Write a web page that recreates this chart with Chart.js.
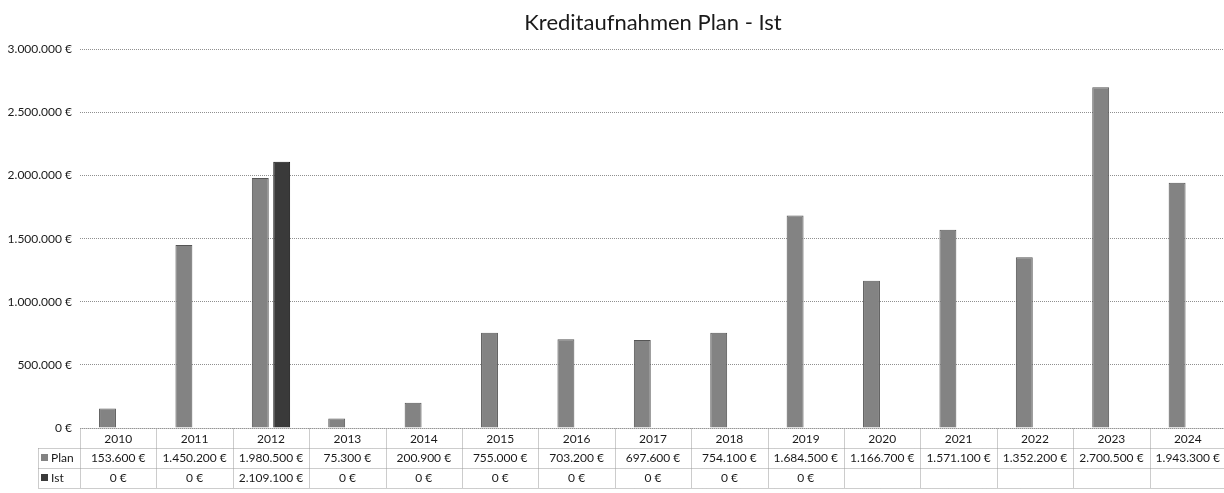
<!DOCTYPE html>
<html>
<head>
<meta charset="utf-8">
<script src="https://cdn.jsdelivr.net/npm/chart.js@4.4.1/dist/chart.umd.min.js"></script>
<style>
  html, body { margin: 0; padding: 0; background: #fff; overflow: hidden; }
  canvas { display: block; }
</style>
</head>
<body>
<canvas id="kredit-chart" width="1230" height="493"></canvas>
<script>
const years = ['2010', '2011', '2012', '2013', '2014', '2015', '2016', '2017', '2018', '2019', '2020', '2021', '2022', '2023', '2024'];
const planValues = [153600, 1450200, 1980500, 75300, 200900, 755000, 703200, 697600, 754100, 1684500, 1166700, 1571100, 1352200, 2700500, 1943300];
const istValues = [0, 0, 2109100, 0, 0, 0, 0, 0, 0, 0, null, null, null, null, null];
const yTicks = [0, 500000, 1000000, 1500000, 2000000, 2500000, 3000000];

const planColor = '#838383';
const istColor = '#3a3a3a';
const textColor = '#1a1a1a';
const fontFamily = 'Lato, "Open Sans", sans-serif';

// 1.450.200 €
function euro(v) {
  return String(v).replace(/\B(?=(\d{3})+(?!\d))/g, '.') + ' €';
}

// data table under the bars (Plan / Ist rows), laid out on the x scale
const dataTable = {
  id: 'dataTable',
  afterDraw(chart) {
    const c = chart.ctx;
    const x = chart.scales.x;
    const top = chart.chartArea.bottom;
    const rowH = 20;
    const colW = x.width / years.length;
    const legendLeft = 38;
    const left = x.left;
    const right = x.right;

    c.save();
    c.strokeStyle = '#9a9a9a';
    c.lineWidth = 1;
    c.setLineDash([1, 1]);

    function line(x1, y1, x2, y2) {
      c.beginPath();
      c.moveTo(Math.round(x1) + 0.5, Math.round(y1) + 0.5);
      c.lineTo(Math.round(x2) + 0.5, Math.round(y2) + 0.5);
      c.stroke();
    }

    line(left, top, right, top);
    line(legendLeft, top + rowH, right, top + rowH);
    line(legendLeft, top + 2 * rowH, right, top + 2 * rowH);
    line(legendLeft, top + 3 * rowH, right, top + 3 * rowH);
    line(legendLeft, top + rowH, legendLeft, top + 3 * rowH);
    for (let i = 0; i <= years.length; i++) {
      const xx = left + i * colW;
      line(xx, top, xx, top + 3 * rowH);
    }
    c.setLineDash([]);

    c.font = '12px ' + fontFamily;
    c.fillStyle = textColor;
    c.textAlign = 'center';
    c.textBaseline = 'middle';
    years.forEach((y, i) => {
      const cx = x.getPixelForValue(i);
      if (planValues[i] !== null) c.fillText(euro(planValues[i]), cx, top + rowH * 1.5);
      if (istValues[i] !== null) c.fillText(euro(istValues[i]), cx, top + rowH * 2.5);
    });

    // legend keys
    const rows = [['Plan', planColor], ['Ist', istColor]];
    rows.forEach((r, k) => {
      const cy = top + rowH * (k + 1.5);
      c.fillStyle = r[1];
      c.fillRect(legendLeft + 3, cy - 4, 7, 7);
      c.fillStyle = textColor;
      c.textAlign = 'left';
      c.fillText(r[0], legendLeft + 13, cy);
    });
    c.restore();
  }
};

new Chart(document.getElementById('kredit-chart'), {
  type: 'bar',
  data: {
    labels: years,
    datasets: [
      {
        label: 'Plan',
        data: planValues,
        backgroundColor: planColor,
        borderColor: '#555',
        borderWidth: 1,
        categoryPercentage: 0.56,
        barPercentage: 0.79
      },
      {
        label: 'Ist',
        data: istValues,
        backgroundColor: istColor,
        borderColor: '#111',
        borderWidth: 1,
        categoryPercentage: 0.56,
        barPercentage: 0.79
      }
    ]
  },
  options: {
    responsive: false,
    animation: false,
    layout: { padding: { left: 0, right: 4, top: 0, bottom: 5 } },
    plugins: {
      legend: { display: false },
      tooltip: { enabled: false },
      title: {
        display: true,
        text: 'Kreditaufnahmen Plan - Ist',
        fullSize: false,
        color: textColor,
        font: { family: fontFamily, size: 22, weight: 'normal' },
        padding: { top: 10, bottom: 13 }
      }
    },
    scales: {
      x: {
        grid: { display: false, drawTicks: false },
        border: { display: false },
        ticks: {
          color: textColor,
          font: { family: fontFamily, size: 12 },
          padding: 4,
          maxRotation: 0,
          autoSkip: false
        },
        afterFit(s) { s.height = 60; }
      },
      y: {
        min: 0,
        max: 3000000,
        afterBuildTicks(s) { s.ticks = yTicks.map(v => ({ value: v })); },
        grid: {
          color: '#8f8f8f',
          drawTicks: false,
          lineWidth: 1
        },
        border: { display: false, dash: [1, 1] },
        ticks: {
          color: textColor,
          font: { family: fontFamily, size: 12 },
          padding: 8,
          callback: v => euro(v)
        },
        afterFit(s) { s.width = 80; }
      }
    }
  },
  plugins: [dataTable]
});
</script>
</body>
</html>
